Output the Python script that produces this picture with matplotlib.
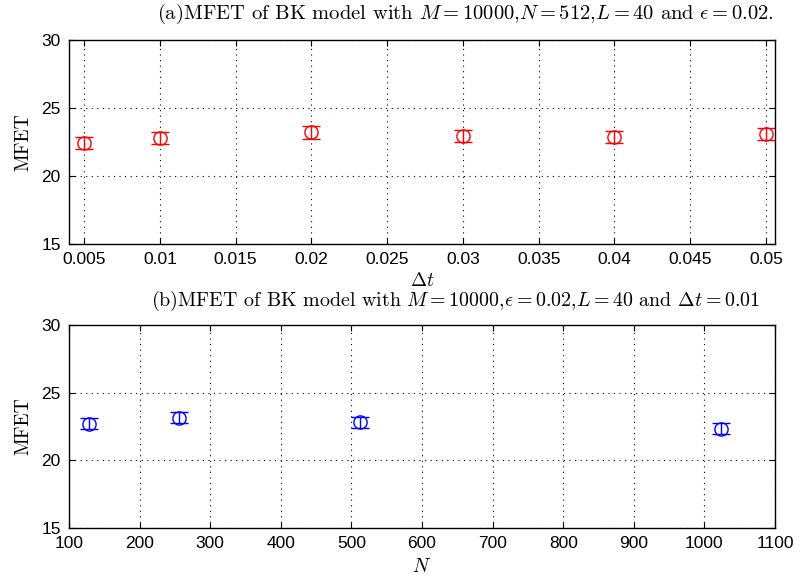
import matplotlib
matplotlib.use("Agg")
import matplotlib.pyplot as plt
import numpy as np

# (a) variando o passo de tempo
dt = [0.005, 0.01, 0.02, 0.03, 0.04, 0.05]
mfet_dt = [22.45, 22.8, 23.2, 22.95, 22.85, 23.1]
err_dt = [0.45, 0.45, 0.45, 0.45, 0.45, 0.45]

# (b) variando N
n_vals = [128, 256, 512, 1024]
mfet_n = [22.7, 23.15, 22.8, 22.35]
err_n = [0.4, 0.4, 0.4, 0.4]

plt.rcParams["mathtext.fontset"] = "cm"
plt.rcParams["font.family"] = ["Liberation Sans", "DejaVu Sans"]

fig = plt.figure(figsize=(8.01, 5.78), dpi=100)
W, H = 801, 578
ax1 = fig.add_axes([69 / W, 1 - 244 / H, 706 / W, 204 / H])
ax2 = fig.add_axes([69 / W, 1 - 528 / H, 706 / W, 203 / H])


def estilo(ax):
    ax.set_ylim(15, 30)
    ax.set_yticks([15, 20, 25, 30])
    ax.grid(True, color="black", linestyle=(0, (1, 4)), linewidth=0.8)
    ax.tick_params(direction="in", top=True, right=True, labelsize=12.5,
                   length=4, width=0.8, pad=6)
    for s in ax.spines.values():
        s.set_linewidth(1.0)
    ax.set_ylabel("MFET", fontname="cmr10", fontsize=14, labelpad=6)


ax1.errorbar(dt, mfet_dt, yerr=err_dt, fmt="o", mfc="none", mec="red",
             ecolor="red", ms=9.5, mew=1.0, elinewidth=1.0, capsize=6.5)
ax1.set_xlim(0.004, 0.0506)
ax1.set_xticks(np.arange(0.005, 0.0501, 0.005))
ax1.set_xticklabels(["0.005", "0.01", "0.015", "0.02", "0.025", "0.03",
                     "0.035", "0.04", "0.045", "0.05"])
estilo(ax1)
ax1.set_xlabel(r"$\Delta t$", fontsize=14, labelpad=3)
ax1.set_title(r"(a)MFET of BK model with $M=10000$,$N=512$,$L=40$ and $\epsilon=0.02$.",
              fontname="cmr10", fontsize=14.8, x=0.561, pad=15)

ax2.errorbar(n_vals, mfet_n, yerr=err_n, fmt="o", mfc="none", mec="blue",
             ecolor="blue", ms=9.5, mew=1.0, elinewidth=1.0, capsize=6.5)
ax2.set_xlim(100, 1100)
ax2.set_xticks(np.arange(100, 1101, 100))
estilo(ax2)
ax2.set_xlabel(r"$N$", fontsize=14, labelpad=5)
ax2.set_title(r"(b)MFET of BK model with $M=10000$,$\epsilon=0.02$,$L=40$ and $\Delta t=0.01$",
              fontname="cmr10", fontsize=14.4, x=0.547, pad=14)

fig.savefig("out.png", dpi=100)
